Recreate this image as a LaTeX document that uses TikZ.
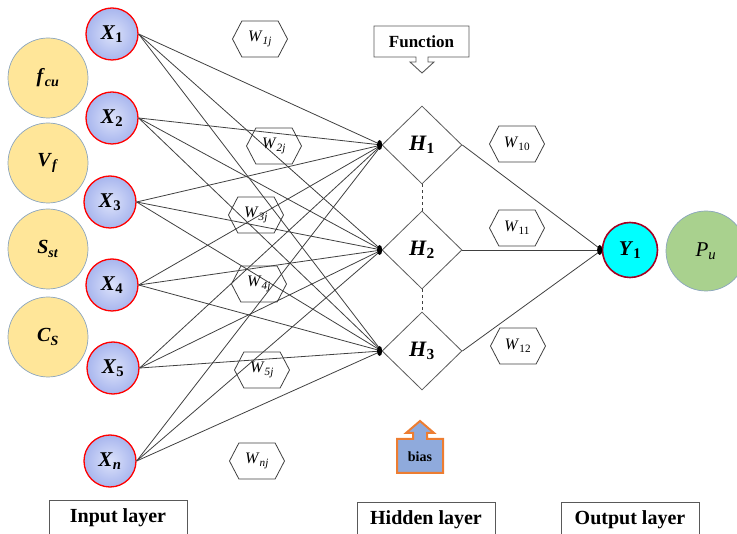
\documentclass[tikz,border=0pt]{standalone}
\usepackage{fontspec}
\setmainfont{Liberation Serif}
\usetikzlibrary{shapes.geometric,shapes.symbols,arrows.meta,calc}
\definecolor{xin}{HTML}{DCE2FA}
\definecolor{xout}{HTML}{A8B6EE}
\definecolor{ylw}{HTML}{FFE699}
\definecolor{ylwb}{HTML}{8AA4BE}
\definecolor{grn}{HTML}{A9D18E}
\definecolor{linec}{HTML}{404040}
\definecolor{boxc}{HTML}{595959}
\definecolor{ydark}{HTML}{A50021}
\definecolor{ycyan}{HTML}{00FFFF}
\definecolor{biasf}{HTML}{8FAADC}
\definecolor{biasb}{HTML}{ED7D31}
\newcommand\bsub[2]{\textbf{\textit{#1}}\textsubscript{\textbf{#2}}}
\newcommand\bisub[2]{\textbf{\textit{#1}}\textsubscript{\textbf{\textit{#2}}}}
\newcommand\wsub[2]{\textit{#1}\textsubscript{#2}}
\begin{document}
\begin{tikzpicture}[x=1pt,y=-1pt,
  inp/.style={circle, draw=red, line width=1.3pt, minimum size=52pt, inner sep=0pt,
    inner color=xin, outer color=xout, font=\fontsize{21}{21}\selectfont},
  prm/.style={circle, draw=ylwb, line width=0.7pt, fill=ylw, minimum size=80pt, inner sep=0pt,
    font=\fontsize{20}{20}\selectfont},
  hid/.style={diamond, draw=boxc, line width=0.8pt, minimum width=80pt, minimum height=78pt,
    inner sep=0pt, font=\fontsize{22}{22}\selectfont},
  hexw/.style={signal, signal to=east and west, signal pointer angle=125, draw=linec,
    line width=0.8pt, minimum width=55pt, minimum height=36pt, inner sep=0pt,
    font=\fontsize{16}{16}\selectfont},
  conn/.style={draw=linec, line width=0.8pt},
  tip/.style={fill=black, draw=none},
  laybox/.style={draw=boxc, line width=0.9pt, minimum width=138pt, minimum height=36pt,
    inner sep=0pt, font=\fontsize{20}{20}\selectfont\bfseries}
]
\useasboundingbox (0,0) rectangle (737,534);
\begin{scope}
\clip (0,0) rectangle (737,534);

% parameter circles
\node[prm] (fcu) at (48,78) {\bisub{f}{cu}};
\node[prm] (vf) at (48,163) {\bisub{V}{f}};
\node[prm] (sst) at (48,249) {\bisub{S}{st}};
\node[prm] (cs) at (48,337) {\bisub{C}{S}};

% input nodes
\node[inp] (x1) at (112,34) {\bsub{X}{1}};
\node[inp] (x2) at (112,118) {\bsub{X}{2}};
\node[inp] (x3) at (110,202) {\bsub{X}{3}};
\node[inp] (x4) at (112,285) {\bsub{X}{4}};
\node[inp] (x5) at (113,368) {\bsub{X}{5}};
\node[inp] (xn) at (110,461) {\bisub{X}{n}};

% hidden nodes
\node[hid] (h1) at (422,145) {\bsub{H}{1}};
\node[hid] (h2) at (422,250) {\bsub{H}{2}};
\node[hid] (h3) at (422,351) {\bsub{H}{3}};
\draw[conn, dashed] (h1.south) -- (h2.north);
\draw[conn, dashed] (h2.south) -- (h3.north);

% connections input -> hidden
\foreach \x in {x1,x2,x3,x4,x5,xn}{
  \foreach \h in {h1,h2,h3}{
    \draw[conn] (\x.east) -- (\h.west);
  }
}
\foreach \h in {h1,h2,h3}{
  \fill[tip] ($(\h.west)+(-2,0)$) ellipse (2.6pt and 5pt);
}

% weights
\node[hexw] (w1) at (260,39) {\wsub{W}{\textit{1j}}};
\node[hexw] (w2) at (274,146) {\wsub{W}{\textit{2j}}};
\node[hexw] (w3) at (256,215) {\wsub{W}{\textit{3j}}};
\node[hexw] (w4) at (259,284) {\wsub{W}{\textit{4j}}};
\node[hexw] (w5) at (262,370) {\wsub{W}{\textit{5j}}};
\node[hexw] (wn) at (257,461) {\wsub{W}{\textit{nj}}};
\node[hexw] (w10) at (517,144) {\wsub{W}{10}};
\node[hexw] (w11) at (517,228) {\wsub{W}{11}};
\node[hexw] (w12) at (518,346) {\wsub{W}{12}};

% output
\node[circle, draw=ydark, line width=1.6pt, fill=ycyan, minimum size=55pt, inner sep=0pt,
  font=\fontsize{21}{21}\selectfont] (y1) at (630,250) {\bsub{Y}{1}};
\node[circle, draw=ylwb, line width=0.7pt, fill=grn, minimum size=80pt, inner sep=0pt,
  font=\fontsize{21}{21}\selectfont] (pu) at (706,251) {\textit{P}\textsubscript{\textit{u}}};
\foreach \h in {h1,h2,h3}{
  \draw[conn] (\h.east) -- (y1.west);
}
\fill[tip] ($(y1.west)+(-2,0)$) ellipse (2.6pt and 5pt);

% function callout
\draw[draw=boxc, line width=0.9pt, fill=white]
  (374,26) -- (469,26) -- (469,57) -- (428,57) -- (428,62) -- (434,62) -- (422,73)
  -- (410,62) -- (416,62) -- (416,57) -- (374,57) -- cycle;
\node[font=\fontsize{17}{17}\selectfont\bfseries] (func) at (421.5,42) {Function};

% bias arrow
\draw[draw=biasb, line width=2pt, fill=biasf, line join=miter]
  (397,439) -- (413,439) -- (413,433) -- (406,433) -- (420,421) -- (434,433)
  -- (427,433) -- (427,439) -- (443,439) -- (443,473) -- (397,473) -- cycle;
\node[font=\fontsize{14}{14}\selectfont\bfseries] (bias) at (420,457) {bias};

% layer labels
\node[laybox] (inl) at (118,518) {Input layer};
\node[laybox] (hidl) at (426,520) {Hidden layer};
\node[laybox] (outl) at (630,520) {Output layer};
\end{scope}
\end{tikzpicture}
\end{document}
